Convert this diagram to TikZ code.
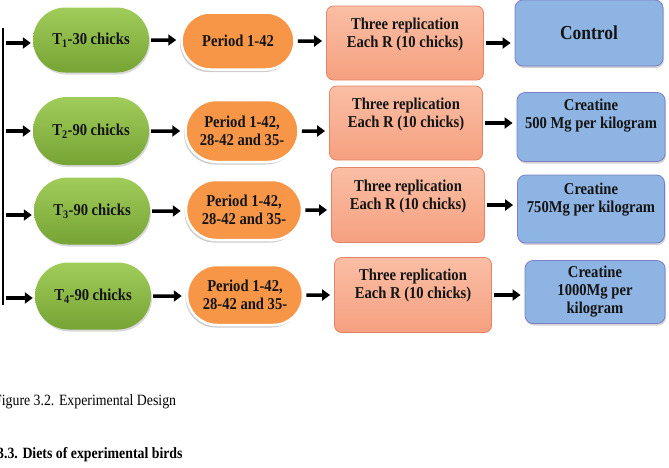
\documentclass[tikz,border=0pt]{standalone}
\usepackage{fontspec}
\setmainfont{Liberation Serif}[FakeStretch=0.88]
\usetikzlibrary{shapes.misc,arrows.meta,shadows}
\definecolor{grT}{RGB}{160,204,90}
\definecolor{grB}{RGB}{118,164,52}
\definecolor{orF}{RGB}{247,150,70}
\definecolor{saT}{RGB}{250,190,165}
\definecolor{saB}{RGB}{246,160,128}
\definecolor{saD}{RGB}{228,132,102}
\definecolor{blF}{RGB}{142,180,227}
\definecolor{blD}{RGB}{125,125,200}
\newcommand{\pushup}[1]{\\[#1]\mbox{}}
\tikzset{
  txt/.style={font=\bfseries\fontsize{16.6}{18}\selectfont, text=black!92, align=center, inner sep=2pt},
  grnode/.style={txt, rounded rectangle, minimum width=120pt, minimum height=65pt,
    top color=grT, bottom color=grB, draw=none,
    drop shadow={opacity=0.3, shadow xshift=1pt, shadow yshift=-2pt}},
  ornode/.style={txt, rounded rectangle, minimum width=117pt, minimum height=57pt,
    fill=orF, draw=white, line width=2.5pt,
    drop shadow={opacity=0.4, shadow xshift=-1.5pt, shadow yshift=-2.5pt}},
  sabox/.style={txt, rectangle, rounded corners=7pt, minimum width=156pt, minimum height=74pt,
    top color=saT, bottom color=saB, draw=saD, line width=0.8pt},
  blbox/.style={txt, rectangle, rounded corners=8pt, minimum width=147pt, minimum height=68pt,
    fill=blF, draw=blD, line width=0.8pt,
    drop shadow={opacity=0.35, shadow xshift=1pt, shadow yshift=-2pt}},
  arr/.style={-{Triangle[length=8pt,width=11pt]}, line width=3.5pt, black, shorten <=2pt, shorten >=4pt},
}
\begin{document}
\begin{tikzpicture}[x=1pt,y=-1pt]
\useasboundingbox (0,0) rectangle (669,467);
% row 1
\node[grnode] (g1) at (91,40) {T\textsubscript{1}-30 chicks};
\node[ornode] (o1) at (238,41) {Period 1-42};
\node[sabox, minimum width=157pt] (s1) at (405,43) {Three replication\\Each R (10 chicks)\pushup{3pt}};
\node[blbox, minimum width=148pt, minimum height=66pt, font=\bfseries\fontsize{19.8}{22}\selectfont] (c1) at (589,33) {Control};
% row 2
\node[grnode, minimum height=68pt] (g2) at (91,131) {T\textsubscript{2}-90 chicks};
\node[ornode, minimum height=62pt] (o2) at (242,131) {Period 1-42,\\28-42 and 35-};
\node[sabox, minimum width=153pt] (s2) at (406,123) {Three replication\\Each R (10 chicks)\pushup{3pt}};
\node[blbox, minimum width=148pt, minimum height=69pt] (c2) at (591,127) {Creatine\\500 Mg per kilogram\pushup{8pt}};
% row 3
\node[grnode, minimum height=67pt] (g3) at (92,211) {T\textsubscript{3}-90 chicks};
\node[ornode, minimum width=120pt, minimum height=60pt] (o3) at (244,210) {Period 1-42,\\28-42 and 35-};
\node[sabox, minimum width=153pt, minimum height=75pt] (s3) at (408,205) {Three replication\\Each R (10 chicks)\pushup{3pt}};
\node[blbox, minimum width=147pt, minimum height=68pt] (c3) at (591,209) {Creatine\\750Mg per kilogram\pushup{5pt}};
% row 4
\node[grnode, minimum height=67pt] (g4) at (93,296) {T\textsubscript{4}-90 chicks};
\node[ornode, minimum width=120pt, minimum height=60pt] (o4) at (245,295) {Period 1-42,\\28-42 and 35-};
\node[sabox, minimum width=157pt, minimum height=75pt] (s4) at (413,295) {Three replication\\Each R (10 chicks)\pushup{4pt}};
\node[blbox, minimum width=140pt, minimum height=63pt] (c4) at (595,292) {Creatine\\1000Mg per\\kilogram};
% vertical bar and entry arrows
\coordinate (vt) at (3,28);
\coordinate (vb) at (3,305);
\draw[line width=2pt] (vt) -- (vb);
\coordinate (v1) at (3,43);
\coordinate (v2) at (3,131);
\coordinate (v3) at (3,215);
\coordinate (v4) at (3,298);
\draw[arr, shorten <=3pt, shorten >=2pt] (v1) -- (v1 -| g1.west);
\draw[arr, shorten <=3pt, shorten >=2pt] (v2) -- (v2 -| g2.west);
\draw[arr, shorten <=3pt, shorten >=2pt] (v3) -- (v3 -| g3.west);
\draw[arr, shorten <=3pt, shorten >=2pt] (v4) -- (v4 -| g4.west);
% row arrows
\foreach \r in {1,2,3,4}{
  \draw[arr] (g\r) -- (g\r -| o\r.west);
  \draw[arr] (o\r) -- (o\r -| s\r.west);
  \draw[arr] (s\r) -- (s\r -| c\r.west);
}
% caption and heading
\node[anchor=base west, inner sep=0pt, font=\fontsize{15.7}{17}\selectfont] (cap) at (-6,405) {Figure 3.2. Experimental Design};
\node[anchor=base west, inner sep=0pt, font=\bfseries\fontsize{15.7}{17}\selectfont] (head) at (-3,458) {3.3. Diets of experimental birds};
\end{tikzpicture}
\end{document}
